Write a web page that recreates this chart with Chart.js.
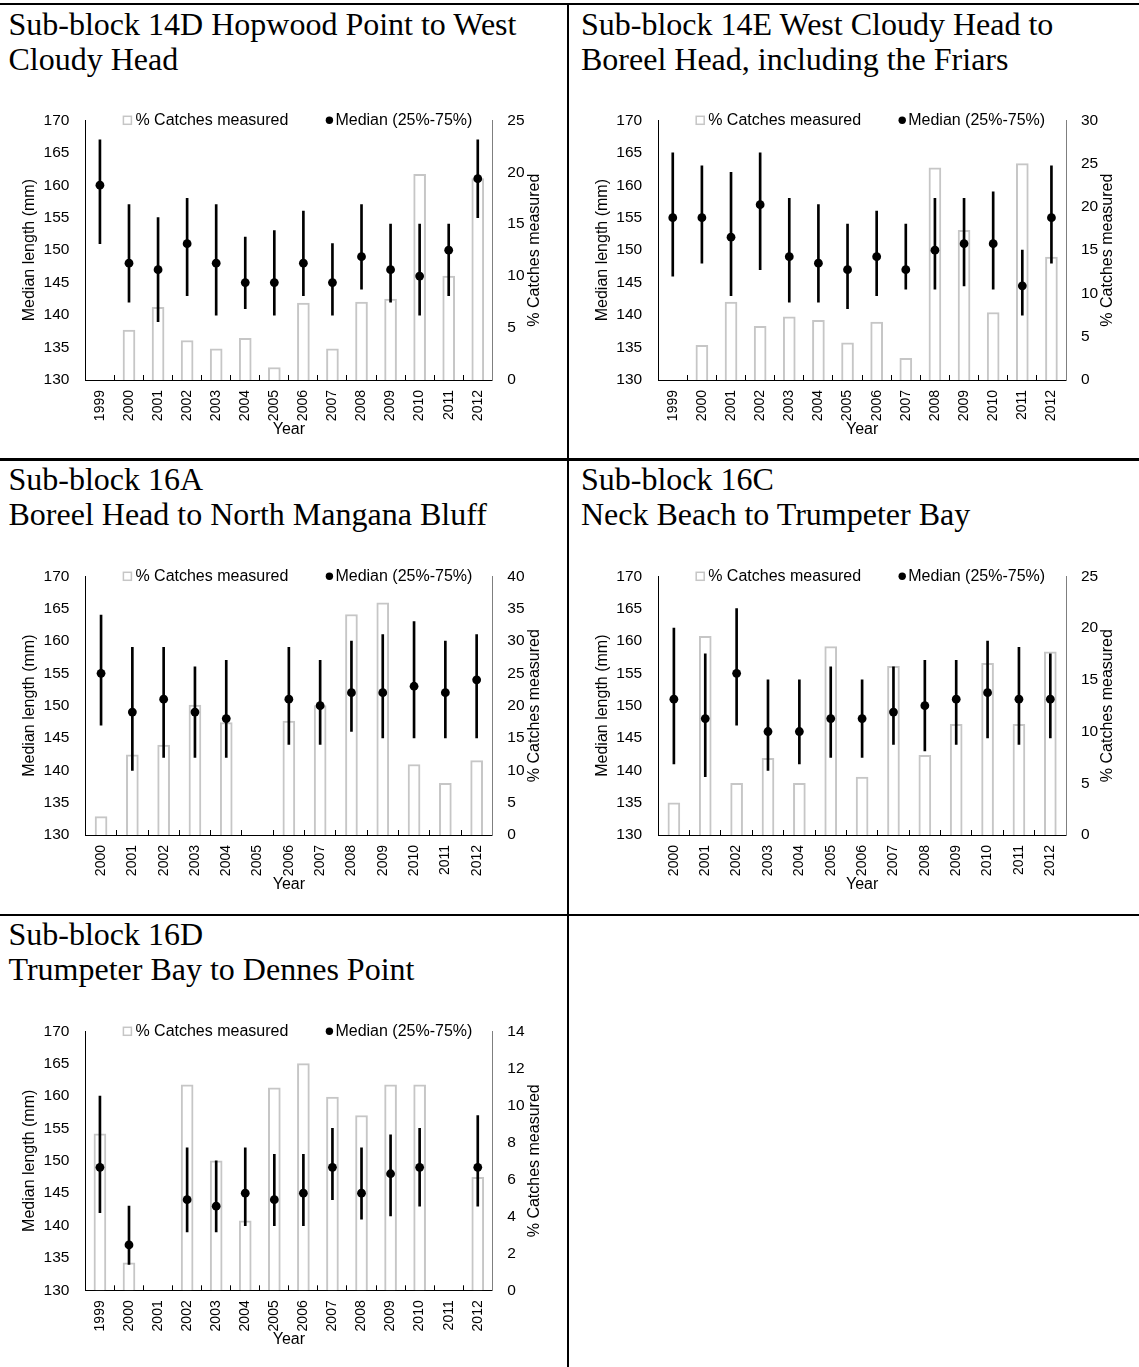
<!DOCTYPE html>
<html>
<head>
<meta charset="utf-8">
<script src="https://cdn.jsdelivr.net/npm/chart.js@4.4.1/dist/chart.umd.min.js"></script>
<style>
  body { margin: 0; background: #fff; }
  #page { position: relative; width: 1139px; height: 1367px; overflow: hidden; }
  .hline, .vline { position: absolute; background: #000; }
  .title {
    position: absolute;
    font-family: "Liberation Serif", "Times New Roman", serif;
    font-size: 32px;
    line-height: 35px;
    color: #000;
    white-space: nowrap;
  }
  canvas { position: absolute; }
</style>
</head>
<body>
<div id="page">
  <div class="hline" style="left:0; top:2.5px; width:1139px; height:2.5px;"></div>
  <div class="hline" style="left:0; top:458.3px; width:1139px; height:2.3px;"></div>
  <div class="hline" style="left:0; top:913.5px; width:1139px; height:2.3px;"></div>
  <div class="vline" style="left:566.7px; top:2.5px; width:2.3px; height:1365px;"></div>

  <div class="title" style="left:8.5px; top:7.3px;">Sub-block 14D Hopwood Point to West<br>Cloudy Head</div>
  <div class="title" style="left:581px; top:7.3px;">Sub-block 14E West Cloudy Head to<br>Boreel Head, including the Friars</div>
  <div class="title" style="left:8.5px; top:462.3px;">Sub-block 16A<br>Boreel Head to North Mangana Bluff</div>
  <div class="title" style="left:581px; top:462.3px;">Sub-block 16C<br>Neck Beach to Trumpeter Bay</div>
  <div class="title" style="left:8.5px; top:917.3px;">Sub-block 16D<br>Trumpeter Bay to Dennes Point</div>

  <canvas id="c14D" width="560" height="355" style="left:0px; top:95px;"></canvas>
  <canvas id="c14E" width="560" height="355" style="left:572px; top:95px;"></canvas>
  <canvas id="c16A" width="560" height="354" style="left:0px; top:551px;"></canvas>
  <canvas id="c16C" width="560" height="354" style="left:572px; top:551px;"></canvas>
  <canvas id="c16D" width="560" height="354" style="left:0px; top:1006px;"></canvas>
</div>

<script>
// ---- data ----
const years99 = ["1999", "2000", "2001", "2002", "2003", "2004", "2005", "2006", "2007", "2008", "2009", "2010", "2011", "2012"];
const years00 = ["2000", "2001", "2002", "2003", "2004", "2005", "2006", "2007", "2008", "2009", "2010", "2011", "2012"];

// 14D Hopwood Point to West Cloudy Head
const pct14D = [null, 4.8, 7.0, 3.8, 3.0, 4.0, 1.2, 7.4, 3.0, 7.5, 7.8, 19.8, 10.0, 19.4];
const med14D = [160, 148, 147, 151, 148, 145, 145, 148, 145, 149, 147, 146, 150, 161];
const hi14D  = [167, 157, 155, 158, 157, 152, 153, 156, 151, 157, 154, 154, 154, 167];
const lo14D  = [151, 142, 139, 143, 140, 141, 140, 143, 140, 144, 142, 140, 143, 155];

// 14E West Cloudy Head to Boreel Head
const pct14E = [null, 4.0, 9.0, 6.2, 7.3, 6.9, 4.3, 6.7, 2.5, 24.5, 17.3, 7.8, 25.0, 14.2];
const med14E = [155, 155, 152, 157, 149, 148, 147, 149, 147, 150, 151, 151, 144.5, 155];
const hi14E  = [165, 163, 162, 165, 158, 157, 154, 156, 154, 158, 158, 159, 150, 163];
const lo14E  = [146, 148, 143, 147, 142, 142, 141, 143, 144, 144, 144.5, 144, 140, 148];

// 16A Boreel Head to North Mangana Bluff
const pct16A = [2.85, 12.4, 13.9, 20.1, 17.4, null, 17.6, 20.0, 34.1, 35.9, 10.9, 8.0, 11.5];
const med16A = [155, 149, 151, 149, 148, null, 151, 150, 152, 152, 153, 152, 154];
const hi16A  = [164, 159, 159, 156, 157, null, 159, 157, 160, 161, 163, 160, 161];
const lo16A  = [147, 140, 142, 142, 142, null, 144, 144, 146, 145, 145, 145, 145];

// 16C Neck Beach to Trumpeter Bay
const pct16C = [3.1, 19.2, 5.0, 7.4, 5.0, 18.2, 5.6, 16.3, 7.7, 10.7, 16.6, 10.7, 17.7];
const med16C = [151, 148, 155, 146, 146, 148, 148, 149, 150, 151, 152, 151, 151];
const hi16C  = [162, 158, 165, 154, 154, 156, 154, 156, 157, 157, 160, 159, 158];
const lo16C  = [141, 139, 147, 140, 141, 142, 142, 144, 143, 144, 145, 144, 145];

// 16D Trumpeter Bay to Dennes Point
const pct16D = [8.46, 1.48, null, 11.1, 7.0, 3.76, 10.94, 12.25, 10.45, 9.45, 11.1, 11.1, null, 6.1];
const med16D = [149, 137, null, 144, 143, 145, 144, 145, 149, 145, 148, 149, null, 149];
const hi16D  = [160, 143, null, 152, 150, 152, 151, 151, 155, 152, 154, 155, null, 157];
const lo16D  = [142, 134, null, 139, 139, 140, 140, 140, 144, 141, 141.5, 143, null, 143];

const pctMax14D = 25, pctMax14E = 30, pctMax16A = 40, pctMax16C = 25, pctMax16D = 14;
const pctStep14D = 5, pctStep14E = 5, pctStep16A = 5, pctStep16C = 5, pctStep16D = 2;

// ---- drawing ----
const SANS = '"Liberation Sans", Arial, sans-serif';

// legend inside the plot top + right axis title reading upwards
const extras = {
    id: "extras",
    afterDraw(chart) {
        const ctx = chart.ctx;
        const a = chart.chartArea;
        const ds = chart.data.datasets;

        ctx.save();
        ctx.font = "16px " + SANS;
        ctx.textBaseline = "middle";
        ctx.textAlign = "left";

        ctx.fillStyle = "#fff";
        ctx.strokeStyle = "#c6c6c6";
        ctx.lineWidth = 1.5;
        ctx.fillRect(a.left + 38, a.top - 4, 8, 8);
        ctx.strokeRect(a.left + 38, a.top - 4, 8, 8);

        ctx.fillStyle = "#000";
        ctx.fillText(ds[0].label, a.left + 50, a.top);

        ctx.beginPath();
        ctx.arc(a.left + 244, a.top, 3.7, 0, Math.PI * 2);
        ctx.fill();
        ctx.fillText(ds[2].label, a.left + 250, a.top);

        ctx.translate(a.right + 42, (a.top + a.bottom) / 2);
        ctx.rotate(-Math.PI / 2);
        ctx.textAlign = "center";
        ctx.fillText("% Catches measured", 0, 0);
        ctx.restore();
    }
};

function makeChart(id, labels, pct, med, hi, lo, pctMax, pctStep, box) {

    const cv = document.getElementById(id);
    const left = parseFloat(cv.style.left);
    const top = parseFloat(cv.style.top);
    const W = cv.width, H = cv.height;

    return new Chart(cv, {
        type: "bar",
        data: {
            labels: labels,
            datasets: [
                {
                    type: "bar",
                    label: "% Catches measured",
                    data: pct,
                    yAxisID: "y2",
                    backgroundColor: "#fff",
                    borderColor: "#c6c6c6",
                    borderWidth: 2,
                    barThickness: 12,
                    grouped: false,
                    order: 3
                },
                {
                    type: "bar",
                    label: "25%-75%",
                    data: lo.map((v, i) => v == null ? null : [v, hi[i]]),
                    yAxisID: "y",
                    backgroundColor: "#000",
                    borderWidth: 0,
                    barThickness: 2,
                    grouped: false,
                    order: 2
                },
                {
                    type: "line",
                    label: "Median (25%-75%)",
                    data: med,
                    yAxisID: "y",
                    showLine: false,
                    pointRadius: 4.4,
                    pointBackgroundColor: "#000",
                    pointBorderWidth: 0,
                    order: 1
                }
            ]
        },
        options: {
            responsive: false,
            animation: false,
            events: [],
            layout: { padding: { top: box.t - top, left: 0, right: 0, bottom: 0 } },
            plugins: { legend: { display: false }, tooltip: { enabled: false } },
            scales: {
                x: {
                    offset: true,
                    grid: {
                        offset: true,
                        drawOnChartArea: false,
                        drawTicks: true,
                        tickLength: -5,
                        color: "#000"
                    },
                    border: { color: "#000", width: 1 },
                    ticks: {
                        autoSkip: false,
                        minRotation: 90,
                        maxRotation: 90,
                        padding: 15,
                        color: "#000",
                        font: { family: SANS, size: 14 }
                    },
                    title: {
                        display: true,
                        text: "Year",
                        color: "#000",
                        font: { family: SANS, size: 16 },
                        padding: { top: 0, bottom: 11 }
                    },
                    afterFit: s => { s.height = top + H - box.b; }
                },
                y: {
                    position: "left",
                    min: 130,
                    max: 170,
                    grid: { display: false, drawTicks: false },
                    border: { color: "#000", width: 1 },
                    ticks: {
                        stepSize: 5,
                        padding: 16,
                        color: "#000",
                        font: { family: SANS, size: 15.5 }
                    },
                    title: {
                        display: true,
                        text: "Median length (mm)",
                        color: "#000",
                        font: { family: SANS, size: 16 },
                        padding: { top: box.l - 56 - left - 9.6, bottom: 0 }
                    },
                    afterFit: s => { s.width = box.l - left; }
                },
                y2: {
                    position: "right",
                    min: 0,
                    max: pctMax,
                    grid: { display: false, drawTicks: false },
                    border: { color: "#7f7f7f", width: 1 },
                    ticks: {
                        stepSize: pctStep,
                        padding: 15,
                        color: "#000",
                        font: { family: SANS, size: 15.5 }
                    },
                    afterFit: s => { s.width = left + W - box.r; }
                }
            }
        },
        plugins: [extras]
    });
}

makeChart("c14D", years99, pct14D, med14D, hi14D, lo14D, pctMax14D, pctStep14D,
    { l: 85.4, r: 492.3, t: 107, b: 380 });
makeChart("c14E", years99, pct14E, med14E, hi14E, lo14E, pctMax14E, pctStep14E,
    { l: 658.2, r: 1066, t: 107, b: 380 });
makeChart("c16A", years00, pct16A, med16A, hi16A, lo16A, pctMax16A, pctStep16A,
    { l: 85.4, r: 492.3, t: 563.3, b: 835 });
makeChart("c16C", years00, pct16C, med16C, hi16C, lo16C, pctMax16C, pctStep16C,
    { l: 658.2, r: 1066, t: 563.3, b: 835 });
makeChart("c16D", years99, pct16D, med16D, hi16D, lo16D, pctMax16D, pctStep16D,
    { l: 85.4, r: 492.3, t: 1018.3, b: 1290.3 });
</script>
</body>
</html>
